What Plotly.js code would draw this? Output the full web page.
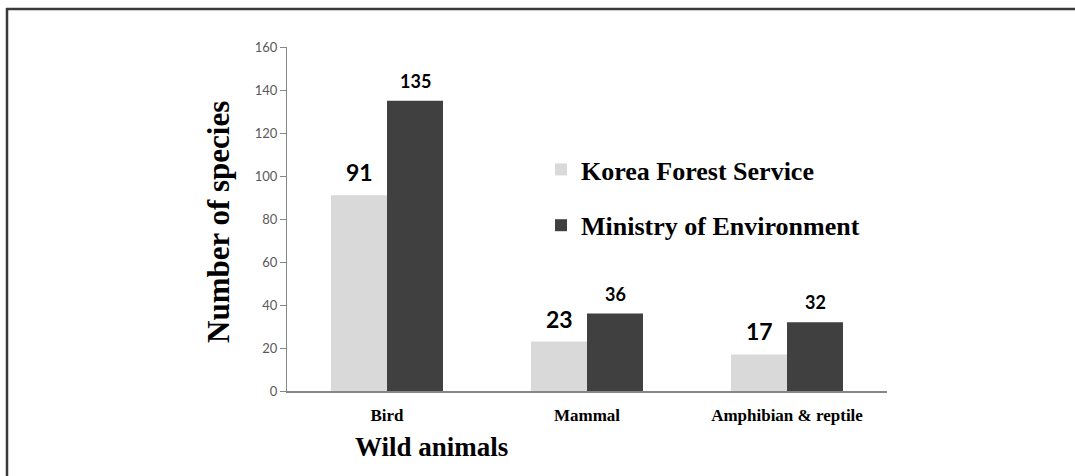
<!DOCTYPE html>
<html>
<head>
<meta charset="utf-8">
<script src="https://cdn.plot.ly/plotly-3.0.1.min.js"></script>
<style>
  html, body { margin: 0; padding: 0; background: #fff; }
  #chart { width: 1075px; height: 476px; }
</style>
</head>
<body>
<div id="chart"></div>
<script>
const categories = ["Bird", "Mammal", "Amphibian & reptile"];
const seriesNames = ["Korea Forest Service", "Ministry of Environment"];
const forestService = [91, 23, 17];
const environment = [135, 36, 32];
const yTicks = [0, 20, 40, 60, 80, 100, 120, 140, 160];

const W = 1075, H = 476;
const L = 287, R = 188, T = 47, B = 85;
const pw = W - L - R, ph = H - T - B;
const px = v => (v - L) / pw;
const py = v => (H - B - v) / ph;

const serif = "Liberation Serif, Times New Roman, serif";
const sans = "Lato, Liberation Sans, sans-serif";

const traces = [
  { type: "bar", name: seriesNames[0], x: categories, y: forestService,
    marker: { color: "#d9d9d9" }, legendgroup: "a", hoverinfo: "y" },
  { type: "bar", name: seriesNames[1], x: categories, y: environment,
    marker: { color: "#404040" }, legendgroup: "b", hoverinfo: "y" }
];

const annotations = [];
categories.forEach((c, i) => {
  annotations.push({ x: c, y: forestService[i], xref: "x", yref: "y", text: String(forestService[i]),
    showarrow: false, yanchor: "bottom", xshift: -28, yshift: 7,
    font: { family: sans, size: 23, color: "#000", weight: "bold" } });
  annotations.push({ x: c, y: environment[i], xref: "x", yref: "y", text: String(environment[i]),
    showarrow: false, yanchor: "bottom", xshift: 28, yshift: 7,
    font: { family: sans, size: 18, color: "#000", weight: "bold" } });
});
annotations.push({ x: px(431), y: py(447), xref: "paper", yref: "paper", text: "Wild animals",
  showarrow: false, xanchor: "center", yanchor: "middle",
  font: { family: serif, size: 27, color: "#000", weight: "bold" } });
annotations.push({ x: px(218), y: py(222), xref: "paper", yref: "paper", text: "Number of species",
  showarrow: false, textangle: -90, xanchor: "center", yanchor: "middle",
  font: { family: serif, size: 31, color: "#000", weight: "bold" } });

const layout = {
  width: W, height: H,
  margin: { l: L, r: R, t: T, b: B, pad: 0 },
  paper_bgcolor: "#fff", plot_bgcolor: "#fff",
  barmode: "group", bargap: 0.44, bargroupgap: 0,
  showlegend: true,
  legend: { x: px(541), y: py(146), xanchor: "left", yanchor: "top",
    bgcolor: "rgba(0,0,0,0)", tracegroupgap: 19,
    font: { family: serif, size: 26, color: "#000", weight: "bold" } },
  xaxis: { type: "category", showgrid: false, zeroline: false,
    showline: true, linecolor: "#868686", linewidth: 1.5, ticks: "",
    tickfont: { family: serif, size: 17, color: "#000", weight: "bold" }, ticklabelstandoff: 8 },
  yaxis: { range: [0, 160], tickvals: yTicks, showgrid: false, zeroline: false,
    showline: true, linecolor: "#868686", linewidth: 1, ticks: "outside", ticklen: 6,
    tickcolor: "#868686", tickfont: { family: sans, size: 13, color: "#595959" } },
  annotations: annotations,
  shapes: [
    { type: "line", xref: "paper", yref: "paper", x0: px(6), x1: px(1076), y0: py(9), y1: py(9),
      line: { color: "#3a3a3a", width: 2.5 } },
    { type: "line", xref: "paper", yref: "paper", x0: px(7), x1: px(7), y0: py(8), y1: py(477),
      line: { color: "#3a3a3a", width: 2.5 } }
  ]
};

Plotly.newPlot("chart", traces, layout, { staticPlot: true, displayModeBar: false });
</script>
</body>
</html>
